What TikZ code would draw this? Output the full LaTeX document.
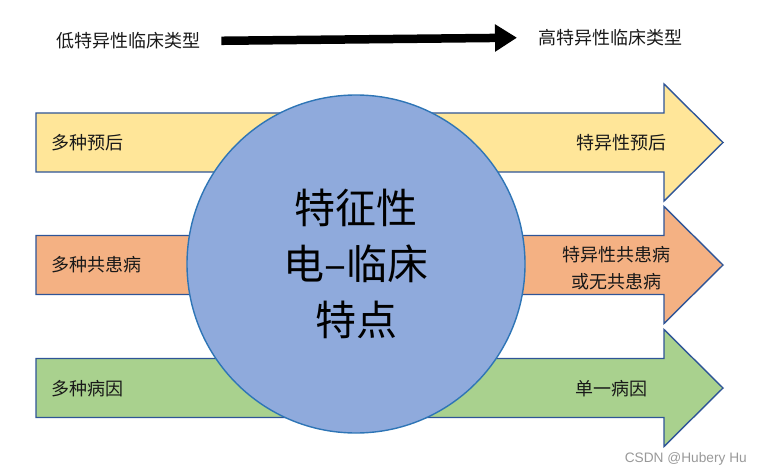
\documentclass[tikz,border=0pt]{standalone}
\usepackage{fontspec}
\setmainfont{Noto Sans CJK SC}
\newfontfamily\wmfont{Liberation Sans}
\usetikzlibrary{arrows.meta}
\definecolor{band-yellow}{HTML}{FFE699}
\definecolor{band-orange}{HTML}{F4B183}
\definecolor{band-green}{HTML}{A9D18E}
\definecolor{band-edge}{HTML}{2F5597}
\definecolor{hub-fill}{HTML}{8FAADC}
\definecolor{hub-edge}{HTML}{2E75B6}
\definecolor{wm-gray}{gray}{0.6}
\tikzstyle{band}=[draw=band-edge,line width=1.4pt,line join=miter]
\tikzstyle{hub}=[circle,draw=hub-edge,line width=1.4pt,fill=hub-fill,minimum size=338pt,inner sep=0pt,align=center,font=\fontsize{41}{56}\selectfont]
\tikzstyle{tag}=[inner sep=0pt,text=black!90,font=\fontsize{18}{27}\selectfont]
\tikzstyle{trend}=[line width=8.5pt,-{Triangle[length=22pt,width=26pt]}]
\newcommand{\drawband}[2]{
\pgfmathsetmacro{\yc}{#2} % centre line of the band, counted from the top
\draw[band,fill=#1] (36,\yc-29.5) -- (664,\yc-29.5) -- (664,\yc-58.5) -- (723,\yc)
  -- (664,\yc+58.5) -- (664,\yc+29.5) -- (36,\yc+29.5) -- cycle;
}
\begin{document}
\begin{tikzpicture}[x=1pt,y=-1pt]
	\useasboundingbox (0,0) rectangle (763,476);
	% low -> high specificity
	\node[tag,anchor=west] (low) at (56,41) {低特异性临床类型};
	\node[tag,anchor=west] (high) at (538,37.5) {高特异性临床类型};
	\draw[trend,shorten <=21pt,shorten >=21pt] (low.east) -- (high.west);
	% three bands
	\drawband{band-yellow}{142.5}
	\drawband{band-orange}{265}
	\drawband{band-green}{388}
	\node[hub] (hub) at (356,264) {特征性\\电–临床\\特点};
	\node[tag,anchor=west] (progL) at (51,143) {多种预后};
	\node[tag,anchor=east] (progR) at (667,143) {特异性预后};
	\node[tag,anchor=west] (comoL) at (51,265) {多种共患病};
	\node[tag,align=center] (comoR) at (616.5,268.5) {特异性共患病\\或无共患病};
	\node[tag,anchor=west] (causeL) at (51,389) {多种病因};
	\node[tag,anchor=east] (causeR) at (648,389) {单一病因};
	\node[anchor=east,inner sep=0pt,text=wm-gray,font=\wmfont\fontsize{13.7}{15}\selectfont] (mark) at (747,459) {CSDN @Hubery Hu};
\end{tikzpicture}
\end{document}
